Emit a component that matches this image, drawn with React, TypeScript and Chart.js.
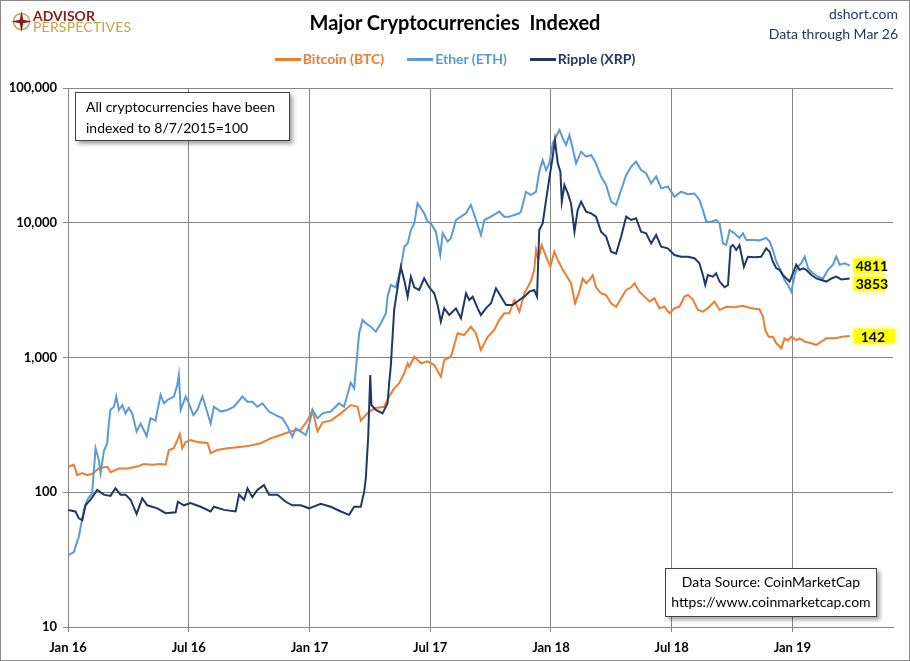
import React, { useEffect, useRef } from 'react'
import Chart from 'chart.js/auto'

const FONT = "Lato, 'Open Sans', sans-serif"

// x is months since Jan 2016, y is the index (8/7/2015 = 100)
const monthTicks = [0, 6, 12, 18, 24, 30, 36]
const monthLabels = ['Jan 16', 'Jul 16', 'Jan 17', 'Jul 17', 'Jan 18', 'Jul 18', 'Jan 19']
const valueTicks = [10, 100, 1000, 10000, 100000]

const seriesNames = ['Bitcoin (BTC)', 'Ether (ETH)', 'Ripple (XRP)']
const seriesColors = ['#ed7d31', '#5b9bd5', '#1f3864']
const endLabels = ['142', '4811', '3853']

const btcPoints: [number, number][] = [
  [0, 155], [0.29, 160], [0.46, 134], [0.71, 139], [0.96, 134], [1.2, 137], [1.53, 150], [1.95, 155],
  [2.11, 141], [2.53, 150], [2.95, 150], [3.44, 155], [3.77, 162], [4.19, 160], [4.6, 162], [4.85, 160],
  [5.01, 206], [5.26, 212], [5.43, 244], [5.56, 270], [5.68, 212], [5.85, 236], [6.09, 244], [6.43, 236],
  [6.93, 232], [7.09, 195], [7.42, 206], [7.92, 212], [8.42, 216], [8.92, 220], [9.41, 228], [9.58, 231],
  [10.07, 251], [10.57, 266], [11.07, 282], [11.57, 292], [11.9, 340], [12.15, 408], [12.4, 282], [12.65, 330],
  [13.06, 340], [13.56, 385], [14.05, 444], [14.39, 431], [14.55, 340], [14.8, 374], [14.97, 397], [15.3, 422],
  [15.71, 431], [15.96, 513], [16.21, 590], [16.46, 644], [16.71, 764], [16.88, 906], [16.96, 855], [17.21, 1014],
  [17.54, 906], [17.87, 937], [18.2, 879], [18.53, 721], [18.7, 958], [19.03, 1014], [19.36, 1514], [19.69, 1469],
  [20.02, 1694], [20.27, 1514], [20.52, 1137], [20.86, 1426], [21.18, 1600], [21.43, 1897], [21.68, 2128], [21.93, 2128],
  [22.18, 2673], [22.43, 2190], [22.68, 2995], [23.01, 3700], [23.17, 4470], [23.26, 6280], [23.37, 5300], [23.54, 6830],
  [23.76, 5600], [23.97, 4720], [24.17, 6100], [24.34, 5300], [24.59, 4470], [24.75, 4090], [25, 3560], [25.2, 2525],
  [25.41, 3080], [25.58, 3860], [25.75, 3560], [25.91, 3760], [26.08, 4090], [26.24, 3320], [26.49, 2995], [26.74, 2910],
  [26.99, 2525], [27.24, 2380], [27.49, 2750], [27.74, 3170], [27.99, 3320], [28.15, 3560], [28.4, 3080], [28.65, 2830],
  [28.9, 2600], [29.14, 2750], [29.39, 2320], [29.64, 2380], [29.89, 2130], [30.14, 2320], [30.39, 2380], [30.64, 2830],
  [30.81, 2910], [31.05, 2700], [31.3, 2250], [31.55, 2190], [31.8, 2320], [32.13, 2600], [32.38, 2250], [32.71, 2380],
  [33.12, 2360], [33.54, 2420], [33.96, 2320], [34.37, 2270], [34.54, 2000], [34.65, 1600], [34.82, 1426], [35.03, 1426],
  [35.2, 1274], [35.45, 1170], [35.61, 1387], [35.78, 1340], [35.95, 1426], [36.19, 1340], [36.36, 1387], [36.61, 1312],
  [36.94, 1274], [37.19, 1240], [37.44, 1312], [37.69, 1387], [37.94, 1387], [38.18, 1387], [38.43, 1426], [38.85, 1442]
]

const ethPoints: [number, number][] = [
  [0, 34], [0.29, 36], [0.54, 47], [0.79, 74], [0.96, 88], [1.2, 98], [1.37, 212], [1.53, 174],
  [1.62, 139], [1.78, 201], [1.95, 232], [2.03, 324], [2.11, 408], [2.28, 431], [2.4, 513], [2.53, 408],
  [2.7, 444], [2.86, 385], [3.02, 422], [3.19, 385], [3.41, 282], [3.61, 324], [3.91, 261], [4.1, 354],
  [4.35, 340], [4.6, 527], [4.77, 457], [4.94, 484], [5.26, 513], [5.43, 625], [5.51, 741], [5.6, 408],
  [5.85, 513], [6.01, 457], [6.23, 374], [6.43, 408], [6.68, 513], [6.84, 431], [7.09, 324], [7.25, 431],
  [7.59, 397], [7.92, 408], [8.25, 431], [8.67, 513], [8.92, 470], [9.16, 470], [9.41, 431], [9.66, 457],
  [9.99, 397], [10.32, 374], [10.66, 354], [10.91, 307], [11.15, 258], [11.32, 297], [11.57, 282], [11.82, 266],
  [11.98, 315], [12.15, 408], [12.4, 354], [12.65, 385], [13.06, 397], [13.47, 457], [13.72, 431], [14.05, 650],
  [14.22, 590], [14.3, 800], [14.47, 1514], [14.64, 1897], [14.8, 1794], [15.05, 1694], [15.3, 1556], [15.55, 1794],
  [15.8, 2128], [15.88, 2827], [16.04, 3451], [16.29, 3319], [16.54, 4592], [16.71, 6640], [16.88, 7031], [17.04, 8833],
  [17.21, 9907], [17.37, 13932], [17.54, 12794], [17.7, 11750], [17.87, 10186], [18.03, 9900], [18.28, 8590], [18.5, 5765],
  [18.62, 8350], [18.87, 7241], [19.03, 7700], [19.28, 10478], [19.53, 11096], [19.78, 11750], [20.02, 13544], [20.19, 11431],
  [20.52, 8110], [20.69, 10478], [21.02, 11096], [21.43, 12100], [21.68, 11096], [21.93, 11096], [22.18, 11431], [22.43, 11750],
  [22.51, 12100], [22.76, 16990], [23.01, 16070], [23.26, 17000], [23.42, 23900], [23.59, 29200], [23.76, 24600], [23.92, 27600],
  [24.09, 38900], [24.25, 43500], [24.42, 48800], [24.59, 42400], [24.75, 37700], [24.92, 44800], [25.08, 35700], [25.25, 27600],
  [25.5, 33700], [25.75, 30900], [26, 31800], [26.24, 27600], [26.49, 22000], [26.74, 19060], [26.99, 14330], [27.24, 13550],
  [27.49, 17500], [27.74, 22600], [27.99, 26100], [28.23, 28400], [28.48, 24600], [28.73, 23300], [28.98, 19600], [29.23, 22000],
  [29.48, 18000], [29.81, 18600], [30.14, 15600], [30.47, 17000], [30.81, 16300], [31.13, 16500], [31.38, 14760], [31.55, 12450],
  [31.72, 10190], [31.97, 10190], [32.21, 10480], [32.38, 9900], [32.55, 7030], [32.71, 6830], [32.88, 8830], [33.12, 8350],
  [33.37, 7720], [33.54, 8350], [33.71, 7450], [34.04, 7450], [34.37, 7400], [34.7, 7720], [34.87, 7240], [35.03, 6280],
  [35.2, 5140], [35.45, 4330], [35.61, 3760], [35.78, 3450], [35.95, 3080], [36.11, 4090], [36.28, 4720], [36.44, 5000],
  [36.61, 5600], [36.78, 4590], [37.02, 4220], [37.27, 3980], [37.52, 3860], [37.77, 4470], [38.02, 4880], [38.18, 5600],
  [38.35, 4880], [38.6, 5000], [38.85, 4811]
]

const xrpPoints: [number, number][] = [
  [0, 74], [0.37, 72], [0.54, 64], [0.71, 62], [0.87, 80], [1.12, 88], [1.45, 104], [1.78, 96],
  [2.11, 94], [2.36, 107], [2.61, 96], [2.86, 96], [3.11, 88], [3.41, 69], [3.69, 90], [3.94, 80],
  [4.44, 76], [4.85, 70], [5.35, 71], [5.46, 85], [5.76, 80], [6.09, 83], [6.59, 78], [7.09, 72],
  [7.25, 78], [7.75, 74], [8.33, 72], [8.5, 96], [8.75, 88], [8.92, 107], [9.16, 92], [9.41, 104],
  [9.74, 113], [9.99, 96], [10.41, 96], [10.82, 85], [11.15, 80], [11.57, 80], [11.98, 76], [12.56, 82],
  [13.06, 78], [13.56, 72], [13.97, 68], [14.22, 78], [14.55, 78], [14.72, 101], [14.8, 127], [14.92, 258],
  [15.02, 741], [15.08, 444], [15.3, 408], [15.63, 385], [15.88, 457], [15.96, 644], [16.04, 855], [16.21, 2254],
  [16.38, 3319], [16.54, 4720], [16.71, 3750], [16.88, 2827], [17.04, 3979], [17.21, 3319], [17.45, 3170], [17.7, 3870],
  [17.95, 3319], [18.2, 2995], [18.37, 2453], [18.53, 1845], [18.7, 2317], [18.95, 2066], [19.28, 2317], [19.53, 1954],
  [19.78, 2995], [19.94, 2673], [20.11, 2827], [20.36, 2317], [20.52, 2066], [20.77, 2317], [21.02, 2525], [21.27, 3260],
  [21.52, 2827], [21.77, 2453], [22.1, 2453], [22.43, 2673], [22.68, 2827], [22.93, 3080], [23.17, 3170], [23.31, 2827],
  [23.42, 8830], [23.59, 9900], [23.76, 14760], [23.92, 21380], [24.09, 30900], [24.2, 41000], [24.34, 27600], [24.47, 23900],
  [24.54, 14330], [24.67, 19060], [24.84, 16500], [25, 13930], [25.17, 8590], [25.33, 12450], [25.5, 14330], [25.75, 12100],
  [26, 11750], [26.24, 11100], [26.49, 8590], [26.74, 7900], [26.99, 6100], [27.24, 5900], [27.49, 7900], [27.74, 11100],
  [27.99, 10480], [28.23, 10800], [28.48, 8590], [28.73, 8350], [28.98, 7030], [29.23, 8110], [29.48, 6640], [29.81, 6460],
  [30.14, 5765], [30.47, 5600], [30.81, 5600], [31.13, 5460], [31.38, 5000], [31.55, 4090], [31.67, 3450], [31.8, 4090],
  [32.05, 3980], [32.21, 4220], [32.38, 3660], [32.63, 3320], [32.8, 3450], [32.93, 6640], [33.05, 6830], [33.21, 6280],
  [33.37, 6830], [33.59, 4720], [33.79, 5600], [34.12, 5550], [34.45, 5600], [34.7, 6460], [34.87, 6100], [35.03, 5140],
  [35.2, 4590], [35.36, 4470], [35.53, 4090], [35.7, 3860], [35.86, 3660], [36.03, 4220], [36.19, 4880], [36.36, 4470],
  [36.53, 4590], [36.69, 4470], [36.94, 4090], [37.19, 3860], [37.44, 3760], [37.69, 3660], [37.94, 3860], [38.18, 3980],
  [38.43, 3800], [38.85, 3853]
]

const allPoints = [btcPoints, ethPoints, xrpPoints]
const labelBoxWidths = [41, 30, 31]
const labelTextOffsets = [7, 2, 2]

// yellow value tags at the end of each line, pushed apart when they would overlap
const endLabelPlugin = {
  id: 'endLabels',
  afterDatasetsDraw(chart: any) {
    const { ctx } = chart
    const tags = chart.data.datasets
      .map((_ds: any, i: number) => {
        const meta = chart.getDatasetMeta(i)
        const last = meta.data[meta.data.length - 1]
        return { i, x: last.x + 4, y: last.y }
      })
      .sort((a: any, b: any) => a.y - b.y)
    for (let k = 1; k < tags.length; k++) {
      if (tags[k].y - tags[k - 1].y < 18) tags[k].y = tags[k - 1].y + 18
    }
    tags.forEach(({ i, x, y }: any) => {
      ctx.save()
      ctx.shadowColor = '#ffff00'
      ctx.shadowBlur = 5
      ctx.fillStyle = '#ffff00'
      ctx.fillRect(x, y - 7, labelBoxWidths[i], 14)
      ctx.shadowBlur = 0
      ctx.fillStyle = '#000000'
      ctx.font = `bold 14px ${FONT}`
      ctx.textBaseline = 'middle'
      ctx.fillText(endLabels[i], x + labelTextOffsets[i], y + 1)
      ctx.restore()
    })
  }
}

const CryptoChart: React.FC = () => {
  const chartRef = useRef<HTMLCanvasElement | null>(null)
  const chartInstance = useRef<Chart | null>(null)

  useEffect(() => {
    if (chartRef.current === null) return
    if (chartInstance.current !== null) chartInstance.current.destroy()
    const ctx = chartRef.current.getContext('2d')
    if (ctx === null) return

    chartInstance.current = new Chart(ctx, {
      type: 'line',
      data: {
        datasets: allPoints.map((pts, i) => ({
          label: seriesNames[i],
          data: pts.map(([x, y]) => ({ x, y })),
          borderColor: seriesColors[i],
          backgroundColor: seriesColors[i],
          borderWidth: 2,
          pointRadius: 0,
          tension: 0,
          fill: false,
          order: 3 - i
        }))
      },
      options: {
        responsive: false,
        animation: false,
        devicePixelRatio: 1,
        layout: { padding: { top: 88, right: 17, bottom: 0, left: 0 } },
        plugins: {
          legend: { display: false },
          title: { display: false },
          tooltip: { enabled: false }
        },
        scales: {
          x: {
            type: 'linear',
            min: 0,
            max: 41,
            afterBuildTicks: (scale: any) => {
              scale.ticks = monthTicks.map((v) => ({ value: v }))
            },
            afterFit: (scale: any) => {
              scale.height = 34
            },
            ticks: {
              autoSkip: false,
              maxRotation: 0,
              padding: 8,
              color: '#000000',
              font: { family: FONT, size: 13, weight: 'bold' },
              callback: (value: any) => {
                const idx = monthTicks.indexOf(Number(value))
                return idx >= 0 ? monthLabels[idx] : ''
              }
            },
            grid: { color: '#868686', lineWidth: 1, tickLength: 5 },
            border: { color: '#868686', width: 1 }
          },
          y: {
            type: 'logarithmic',
            min: 10,
            max: 100000,
            afterBuildTicks: (scale: any) => {
              scale.ticks = valueTicks.map((v) => ({ value: v }))
            },
            afterFit: (scale: any) => {
              scale.width = 68
            },
            ticks: {
              autoSkip: false,
              padding: 6,
              color: '#000000',
              font: { family: FONT, size: 13, weight: 'bold' },
              callback: (value: any) => Number(value).toLocaleString('en-US')
            },
            grid: { color: '#868686', lineWidth: 1, tickLength: 5 },
            border: { color: '#868686', width: 1 }
          }
        }
      },
      plugins: [endLabelPlugin]
    })

    return () => {
      if (chartInstance.current !== null) {
        chartInstance.current.destroy()
        chartInstance.current = null
      }
    }
  }, [])

  return <canvas ref={chartRef} width={910} height={661} style={{ position: 'absolute', left: 0, top: 0 }} />
}

const Logo: React.FC = () => (
  <div style={{ position: 'absolute', left: 11, top: 10, display: 'flex', alignItems: 'center' }}>
    <svg width="21" height="21" viewBox="0 0 21 21">
      <circle cx="10.5" cy="10.5" r="8" fill="none" stroke="#c8a14a" strokeWidth="1.5" />
      <polygon points="10.5,0 12.3,8.7 21,10.5 12.3,12.3 10.5,21 8.7,12.3 0,10.5 8.7,8.7" fill="#8b1c1c" />
    </svg>
    <div style={{ marginLeft: 1, lineHeight: '11px' }}>
      <div style={{ color: '#8b1c1c', fontWeight: 'bold', fontSize: 14, fontFamily: FONT }}>ADVISOR</div>
      <div style={{ color: '#c8a14a', fontSize: 14, fontFamily: FONT, letterSpacing: 0.2 }}>PERSPECTIVES</div>
    </div>
  </div>
)

const App: React.FC = () => {
  const textBase: React.CSSProperties = { position: 'absolute', fontFamily: FONT, whiteSpace: 'nowrap' }
  return (
    <div style={{ position: 'absolute', left: 0, top: 0, width: 910, height: 661, background: '#ffffff', overflow: 'hidden' }}>
      <CryptoChart />
      <Logo />
      <div style={{ ...textBase, left: 0, width: 910, top: 10, textAlign: 'center', fontSize: 20, fontWeight: 'bold', color: '#000' }}>
        Major Cryptocurrencies&nbsp; Indexed
      </div>
      <div style={{ ...textBase, right: 12, top: 4, textAlign: 'right', fontSize: 14, lineHeight: '20px', color: '#1f3864' }}>
        <div>dshort.com</div>
        <div>Data through Mar 26</div>
      </div>
      <div style={{ ...textBase, left: 0, width: 910, top: 50, display: 'flex', justifyContent: 'center', gap: 23 }}>
        {seriesNames.map((name, i) => (
          <div key={name} style={{ display: 'flex', alignItems: 'center', color: seriesColors[i], fontWeight: 'bold', fontSize: 14, lineHeight: '18px' }}>
            <span style={{ display: 'inline-block', width: 26, height: 3, background: seriesColors[i], marginRight: 2 }} />
            {name}
          </div>
        ))}
      </div>
      <div
        style={{
          ...textBase,
          left: 75,
          top: 92,
          width: 215,
          height: 49,
          boxSizing: 'border-box',
          border: '1px solid #404040',
          background: '#fff',
          boxShadow: '3px 3px 4px rgba(0,0,0,0.35)',
          padding: '3px 0 0 10px',
          fontSize: 14,
          lineHeight: '21px',
          color: '#000'
        }}
      >
        <div>All cryptocurrencies have been</div>
        <div>indexed to 8/7/2015=100</div>
      </div>
      <div
        style={{
          ...textBase,
          left: 665,
          top: 568,
          width: 212,
          height: 49,
          boxSizing: 'border-box',
          border: '1px solid #404040',
          background: '#fff',
          boxShadow: '3px 3px 4px rgba(0,0,0,0.35)',
          paddingTop: 3,
          textAlign: 'center',
          fontSize: 14,
          lineHeight: '20px',
          color: '#000'
        }}
      >
        <div>Data Source: CoinMarketCap</div>
        <div>https://www.coinmarketcap.com</div>
      </div>
      <div style={{ position: 'absolute', left: 0, top: 0, width: 910, height: 661, boxSizing: 'border-box', border: '1px solid #8a8a8a', pointerEvents: 'none' }} />
    </div>
  )
}

export default App
